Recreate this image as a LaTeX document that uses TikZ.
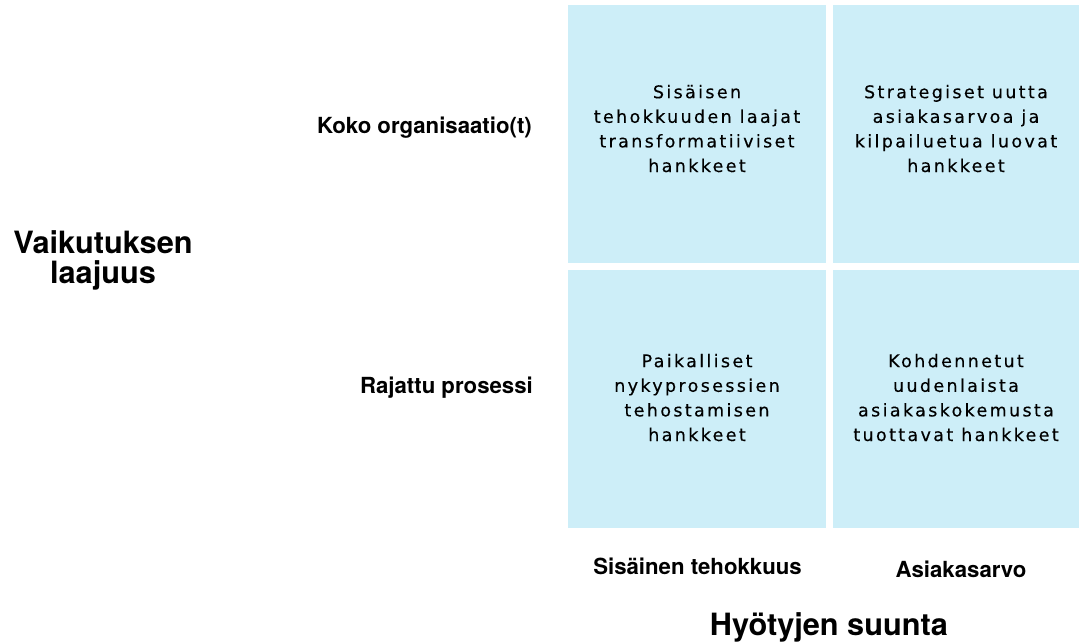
\documentclass[tikz,border=0pt]{standalone}
\usepackage{fontspec}
\setmainfont{TeX Gyre Heros}
\newfontfamily\boxfont[LetterSpace=13.5,FakeBold=0.3]{DejaVu Sans}
\definecolor{quadblue}{RGB}{205,238,248}
\begin{document}
\begin{tikzpicture}[x=1pt,y=-1pt,
  quad/.style={rectangle,fill=quadblue,draw=none,inner sep=0pt},
  quadtext/.style={anchor=north,align=center,inner sep=0pt,
    font=\boxfont\fontsize{17.5}{24.6}\selectfont},
  axislabel/.style={inner sep=0pt,font=\bfseries\fontsize{22.2}{26}\selectfont},
  axistitle/.style={inner sep=0pt,align=center,font=\bfseries\fontsize{30.7}{30.5}\selectfont}]
\useasboundingbox (0,0) rectangle (1081,643);
% quadrants
\node[quad,minimum width=258pt,minimum height=258pt] (tl) at (697,134) {};
\node[quad,minimum width=246pt,minimum height=258pt] (tr) at (956,134) {};
\node[quad,minimum width=258pt,minimum height=258pt] (bl) at (697,399) {};
\node[quad,minimum width=246pt,minimum height=258pt] (br) at (956,399) {};
% quadrant texts
\node[quadtext] (tlt) at (697,84.7) {Sisäisen\\tehokkuuden laajat\\transformatiiviset\\hankkeet};
\node[quadtext] (trt) at (956,84.7) {Strategiset uutta\\asiakasarvoa ja\\kilpailuetua luovat\\hankkeet};
\node[quadtext] (blt) at (697,353.7) {Paikalliset\\nykyprosessien\\tehostamisen\\hankkeet};
\node[quadtext] (brt) at (956,353.7) {Kohdennetut\\uudenlaista\\asiakaskokemusta\\tuottavat hankkeet};
% row labels
\node[axislabel,anchor=base east] (koko) at (532,133) {Koko organisaatio(t)};
\node[axislabel,anchor=base east] (raj) at (533,393) {Rajattu prosessi};
% column labels
\node[axislabel,anchor=base] (sis) at (697.5,574) {Sisäinen tehokkuus};
\node[axislabel,anchor=base] (asi) at (961,577) {Asiakasarvo};
% axis titles
\node[axistitle,anchor=north] (vaik) at (103,230) {Vaikutuksen\\laajuus};
\node[axistitle,anchor=base] (hyo) at (829,635) {Hyötyjen suunta};
\end{tikzpicture}
\end{document}
